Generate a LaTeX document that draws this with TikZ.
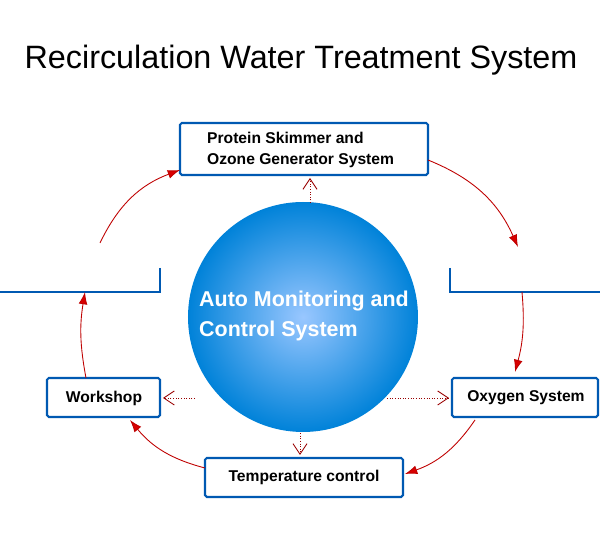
\documentclass[tikz,border=0pt]{standalone}
\usepackage{fontspec}
\setmainfont{Liberation Sans}
\usetikzlibrary{arrows.meta}
\begin{document}
\begin{tikzpicture}[x=0.02cm,y=-0.02cm,
 box/.style={draw=blue!50!cyan!70!black,line width=1.2pt,fill=white,rounded corners=1pt},
 lbl/.style={font=\bfseries\fontsize{8.9}{11.5}\selectfont,align=left},
 red/.style={draw=red!75!black,line width=0.5pt,-{Latex[length=7pt,width=5pt,fill=red!85!black]}},
 dot/.style={draw=red!60!black,densely dotted,line width=0.5pt,-{Straight Barb[length=6pt,width=8pt,open]}}]
\useasboundingbox (0,0) rectangle (600,550);
\fill[white] (0,0) rectangle (600,550);
\node[font=\fontsize{18.4}{20}\selectfont] (title) at (301,60) {Recirculation Water Treatment System};
\shade[inner color=cyan!45!blue!40, outer color=cyan!60!blue!85!black] (303,317) circle (115);
\node[font=\bfseries\fontsize{12.2}{17}\selectfont,text=white,align=left] (c) at (304,316) {Auto Monitoring and\\Control System};
\draw[box] (180,123) rectangle (428,175);
\node[lbl,anchor=west] (toptext) at (201,150) {Protein Skimmer and\\Ozone Generator System};
\coordinate (tl) at (180,170); \coordinate (tr) at (428,160);
% partial side boxes
\draw[blue!50!cyan!70!black,line width=1.2pt] (160,268) -- (160,292) -- (-2,292);
\draw[blue!50!cyan!70!black,line width=1.2pt] (450,268) -- (450,292) -- (602,292);
\coordinate (lb) at (85,292); \coordinate (lt) at (100,243);
\coordinate (rt) at (518,247); \coordinate (rb) at (522,292);
\draw[box] (47,378) rectangle (160,417);
\node[lbl] (work) at (104,398) {Workshop};
\draw[box] (452,378) rectangle (598,417);
\node[lbl] (oxy) at (526,398) {Oxygen System};
\draw[box] (205,458) rectangle (403,497);
\node[lbl] (temp) at (304,477) {Temperature control};
% red arrows
\draw[red] (lt) to[bend left=22] (tl);
\draw[red] (tr) to[bend left=22] (rt);
\draw[red] (rb) to[bend left=10] (515,372);
\draw[red] (475,420) to[bend left=18] (405,474);
\draw[red] (205,468) to[bend left=18] (130,420);
\draw[red] (86,378) to[bend left=10] (lb);
% dotted arrows
\draw[dot] (310,203) -- (310,178);
\draw[dot] (195,398) -- (163,398);
\draw[dot] (387,398) -- (449,398);
\draw[dot] (300,433) -- (300,455);
\end{tikzpicture}
\end{document}
